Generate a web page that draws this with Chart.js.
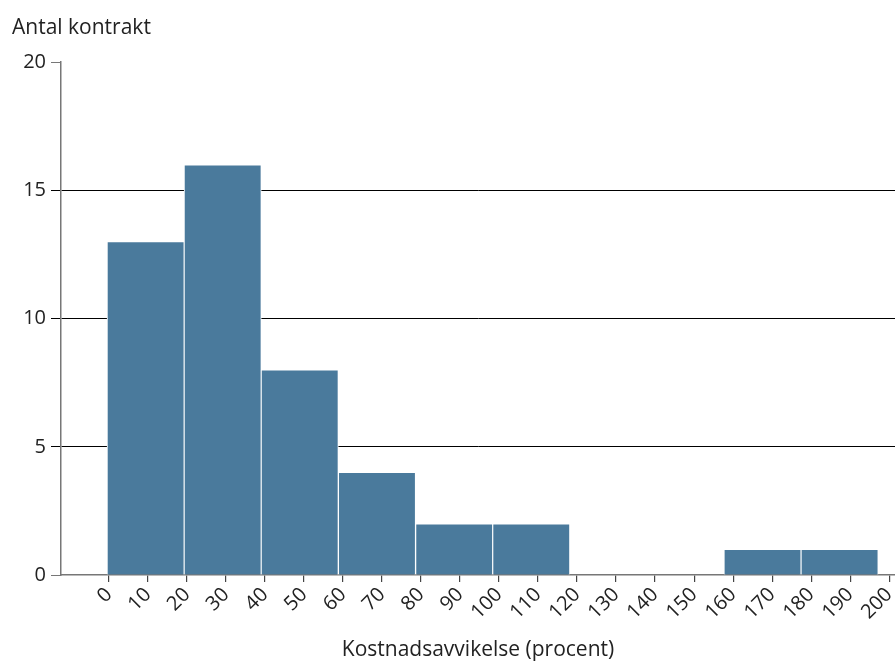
<!DOCTYPE html>
<html>
<head>
<meta charset="utf-8">
<script src="https://cdn.jsdelivr.net/npm/chart.js@4"></script>
<style>
  html, body { margin: 0; padding: 0; background: #fff; }
  #wrap { width: 895px; height: 664px; }
</style>
</head>
<body>
<div id="wrap"><canvas id="histChart"></canvas></div>
<script>
// bin edges (percent), counts per bin
const binEdges = [-0.5, 19.3, 39.0, 58.8, 78.6, 98.4, 118.1, 137.9, 157.7, 177.4, 197.2];
const counts = [13, 16, 8, 4, 2, 2, 0, 0, 1, 1];
const xTicks = [0, 10, 20, 30, 40, 50, 60, 70, 80, 90, 100, 110, 120, 130, 140, 150, 160, 170, 180, 190, 200];
const yTicks = [0, 5, 10, 15, 20];

const font = 'Open Sans';
const textColor = '#222';

const points = counts.map((c, i) => ({ x: (binEdges[i] + binEdges[i + 1]) / 2, y: c }));

const ctx = document.getElementById('histChart').getContext('2d');
new Chart(ctx, {
  type: 'bar',
  data: {
    datasets: [{
      data: points,
      backgroundColor: '#4a7a9c',
      borderColor: '#ffffff',
      borderWidth: 1,
      // bars are one bin wide on the x scale
      barThickness: (c) => {
        const sx = c.chart.scales.x;
        if (!sx || !sx.width) return 10;
        return sx.getPixelForValue(binEdges[1]) - sx.getPixelForValue(binEdges[0]);
      }
    }]
  },
  options: {
    responsive: true,
    maintainAspectRatio: false,
    animation: false,
    layout: { padding: { left: 12, right: 0, top: 0, bottom: 0 } },
    scales: {
      x: {
        type: 'linear',
        offset: false,
        min: -12.3,
        max: 201.5,
        afterBuildTicks: (scale) => { scale.ticks = xTicks.map(v => ({ value: v })); },
        afterFit: (scale) => { scale.height = 89; scale.paddingRight = 0; },
        grid: { offset: false, drawOnChartArea: false, drawTicks: true, tickLength: 7, tickColor: '#444', lineWidth: 1.2 },
        border: { color: '#777', width: 1.5 },
        ticks: {
          color: textColor,
          font: { family: font, size: 20 },
          minRotation: 45,
          maxRotation: 45,
          padding: 1,
          autoSkip: false
        },
        title: {
          display: true,
          text: 'Kostnadsavvikelse (procent)',
          color: textColor,
          font: { family: font, size: 21 },
          padding: { top: 0, bottom: 1 }
        }
      },
      y: {
        min: 0,
        max: 20,
        afterBuildTicks: (scale) => { scale.ticks = yTicks.map(v => ({ value: v })); },
        afterFit: (scale) => { scale.width = 49; },
        grid: {
          color: (c) => (c.tick && c.tick.value > 0 && c.tick.value < 20) ? '#000' : 'rgba(0,0,0,0)',
          tickColor: (c) => (c.tick && c.tick.value > 0 && c.tick.value < 20) ? '#000' : '#777',
          lineWidth: 1,
          tickLength: 10
        },
        border: { color: '#777', width: 1.5 },
        ticks: {
          color: textColor,
          font: { family: font, size: 20 },
          padding: 5
        }
      }
    },
    plugins: {
      legend: { display: false },
      tooltip: { enabled: false },
      title: {
        display: true,
        text: 'Antal kontrakt',
        align: 'start',
        color: textColor,
        font: { family: font, size: 21, weight: 'normal' },
        padding: { top: 15, bottom: 22 }
      }
    }
  }
});
</script>
</body>
</html>
